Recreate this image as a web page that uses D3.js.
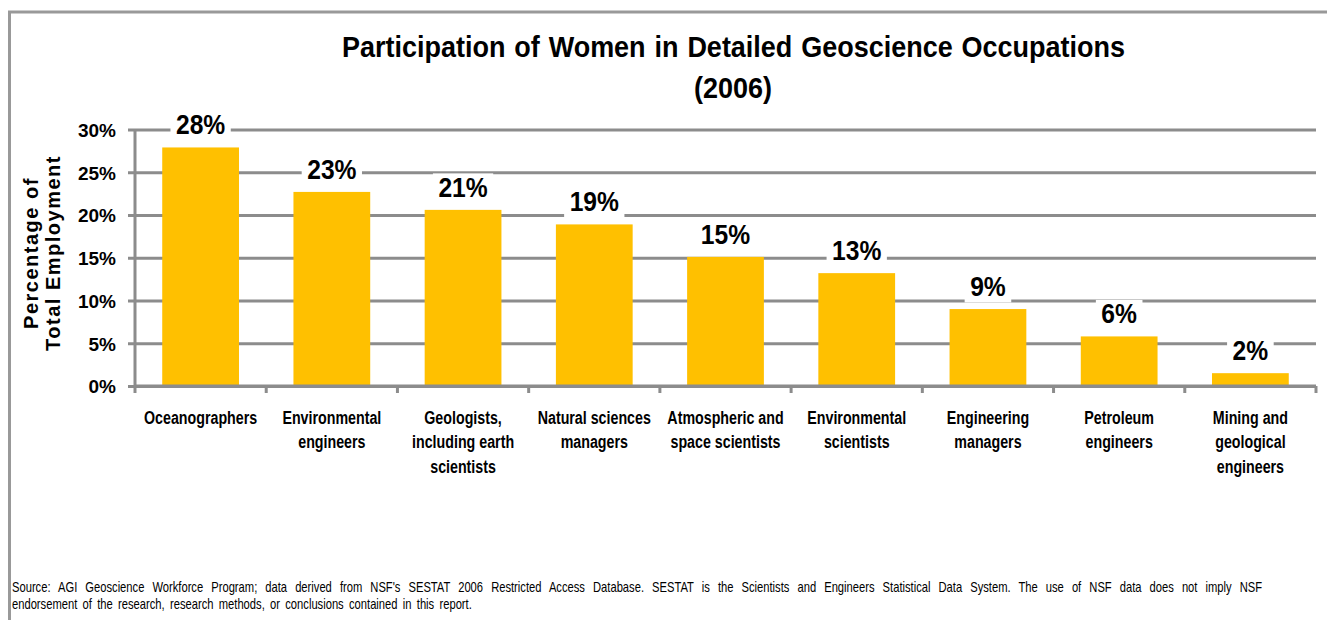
<!DOCTYPE html>
<html>
<head>
<meta charset="utf-8">
<script src="https://cdn.jsdelivr.net/npm/d3@7"></script>
<style>
  body { margin: 0; background: #fff; }
  text { font-family: "Liberation Sans", Arial, sans-serif; }
</style>
</head>
<body>
<div id="chart"></div>
<script>
// data
var occupations = [
  ["Oceanographers"],
  ["Environmental", "engineers"],
  ["Geologists,", "including earth", "scientists"],
  ["Natural sciences", "managers"],
  ["Atmospheric and", "space scientists"],
  ["Environmental", "scientists"],
  ["Engineering", "managers"],
  ["Petroleum", "engineers"],
  ["Mining and", "geological", "engineers"]
];
var shares = [27.9, 22.7, 20.6, 18.9, 15.1, 13.2, 9.0, 5.8, 1.5];
var yTicks = [0, 5, 10, 15, 20, 25, 30];

var svgWidth = 1327;
var svgHeight = 620;

var margin = {
  top: 129.5,
  right: 11,
  bottom: 234,
  left: 135
};

var width = svgWidth - margin.left - margin.right;
var height = svgHeight - margin.top - margin.bottom;

var gridColor = "#8c8c8c";
var barColor = "#ffc000";
var narrow = 0.8; // squeeze to look like Arial Narrow

var svg = d3.select("#chart")
  .append("svg")
  .attr("width", svgWidth)
  .attr("height", svgHeight);

// stretch spaces so a squeezed line ends up the wanted width
function fitWords(textNode, target, sx) {
  var t = d3.select(textNode);
  t.style("word-spacing", "0px");
  var len = textNode.getComputedTextLength();
  var spaces = (t.text().match(/ /g) || []).length;
  if (spaces > 0) t.style("word-spacing", ((target / sx - len) / spaces) + "px");
}

// outer frame (right and bottom sides fall off the picture)
svg.append("path")
  .attr("d", "M9.5,640 V12 H1340")
  .attr("fill", "none")
  .attr("stroke", "#999")
  .attr("stroke-width", 3);

var chartGroup = svg.append("g")
  .attr("transform", `translate(${margin.left}, ${margin.top})`);

var xBandScale = d3.scaleBand()
  .domain(d3.range(occupations.length))
  .range([0, width])
  .paddingInner(0.415)
  .paddingOuter(0.2075);

var yLinearScale = d3.scaleLinear()
  .domain([0, 30])
  .range([height, 0]);

// gridlines + y ticks
var leftAxis = d3.axisLeft(yLinearScale)
  .tickValues(yTicks)
  .tickSize(-width)
  .tickFormat(d => d + "%");

var yAxis = chartGroup.append("g").call(leftAxis);
yAxis.select(".domain").remove();
yAxis.selectAll(".tick line")
  .attr("x1", -7)
  .attr("stroke", gridColor)
  .attr("stroke-width", 3);
yAxis.selectAll(".tick text")
  .attr("x", -19)
  .attr("dy", "0.36em")
  .attr("font-size", "19px")
  .attr("font-weight", "bold")
  .attr("fill", "#000")
  .style("font-family", "'Liberation Sans', Arial, sans-serif");

// vertical axis line
chartGroup.append("line")
  .attr("x1", 0).attr("x2", 0)
  .attr("y1", 0).attr("y2", height)
  .attr("stroke", gridColor)
  .attr("stroke-width", 3);

// bars
chartGroup.selectAll("rect.bar")
  .data(shares)
  .enter()
  .append("rect")
  .attr("class", "bar")
  .attr("x", (d, i) => xBandScale(i))
  .attr("y", d => yLinearScale(d))
  .attr("width", xBandScale.bandwidth())
  .attr("height", d => height - yLinearScale(d))
  .attr("fill", barColor);

// x axis with category separators
var step = xBandScale.step();
var xAxisGroup = chartGroup.append("g")
  .attr("transform", `translate(0, ${height})`);
xAxisGroup.append("line")
  .attr("x1", 0).attr("x2", width)
  .attr("stroke", gridColor)
  .attr("stroke-width", 3);
xAxisGroup.selectAll("line.sep")
  .data(d3.range(occupations.length + 1))
  .enter()
  .append("line")
  .attr("class", "sep")
  .attr("x1", i => i * step).attr("x2", i => i * step)
  .attr("y1", 0).attr("y2", 7)
  .attr("stroke", gridColor)
  .attr("stroke-width", 3);

// category labels
var catLabels = chartGroup.selectAll("text.cat")
  .data(occupations)
  .enter()
  .append("text")
  .attr("class", "cat")
  .attr("text-anchor", "middle")
  .attr("font-size", "18.5px")
  .attr("font-weight", "bold")
  .attr("transform", (d, i) => `translate(${xBandScale(i) + xBandScale.bandwidth() / 2}, ${height + 38}) scale(0.77, 1)`);
catLabels.selectAll("tspan")
  .data(d => d)
  .enter()
  .append("tspan")
  .attr("x", 0)
  .attr("dy", (d, i) => i === 0 ? 0 : 24.5)
  .text(d => d);

// value labels with white boxes over the gridlines
var valueGroups = chartGroup.selectAll("g.val")
  .data(shares)
  .enter()
  .append("g")
  .attr("class", "val")
  .attr("transform", (d, i) => `translate(${xBandScale(i) + xBandScale.bandwidth() / 2}, ${yLinearScale(d) - 13})`);

valueGroups.append("text")
  .attr("text-anchor", "middle")
  .attr("font-size", "28px")
  .attr("font-weight", "bold")
  .attr("fill", "#000")
  .attr("transform", "scale(0.88, 1)")
  .text(d => Math.round(d) + "%");

valueGroups.each(function() {
  var g = d3.select(this);
  var bb = g.select("text").node().getBBox();
  g.insert("rect", "text")
    .attr("x", bb.x * 0.88 - 5.5)
    .attr("y", bb.y + 2)
    .attr("width", bb.width * 0.88 + 11)
    .attr("height", bb.height - 2)
    .attr("fill", "#fff");
});

// y axis title
var yTitleX = 0 - (height / 2) + 4.75;
chartGroup.append("text")
  .attr("transform", "rotate(-90)")
  .attr("x", yTitleX)
  .attr("y", -97)
  .attr("text-anchor", "middle")
  .attr("font-size", "20px")
  .attr("font-weight", "bold")
  .style("letter-spacing", "1.5px")
  .selectAll("tspan")
  .data(["Percentage of", "Total Employment"])
  .enter()
  .append("tspan")
  .attr("x", yTitleX)
  .attr("dy", (d, i) => i === 0 ? 0 : 22)
  .text(d => d);

// title
var titleScale = 0.9;
var title1 = svg.append("text")
  .attr("text-anchor", "middle")
  .attr("font-size", "30px")
  .attr("font-weight", "bold")
  .attr("transform", `translate(733.5, 57) scale(${titleScale}, 1)`)
  .text("Participation of Women in Detailed Geoscience Occupations");
fitWords(title1.node(), 783, titleScale);
svg.append("text")
  .attr("text-anchor", "middle")
  .attr("font-size", "30px")
  .attr("font-weight", "bold")
  .attr("transform", `translate(733, 98) scale(${titleScale}, 1)`)
  .text("(2006)");

// source note
var sourceLines = [
  "Source: AGI Geoscience Workforce Program; data derived from NSF's SESTAT 2006 Restricted Access Database.  SESTAT is the Scientists and Engineers Statistical Data System. The use of NSF data does not imply NSF",
  "endorsement of the research, research methods, or conclusions contained  in this report."
];
var sourceWidths = [1255, 462];
svg.selectAll("text.src")
  .data(sourceLines)
  .enter()
  .append("text")
  .attr("class", "src")
  .attr("font-size", "14px")
  .attr("fill", "#000")
  .attr("transform", (d, i) => `translate(12, ${592 + i * 17}) scale(${narrow}, 1)`)
  .text(d => d)
  .each(function(d, i) { fitWords(this, sourceWidths[i], narrow); });
</script>
</body>
</html>
